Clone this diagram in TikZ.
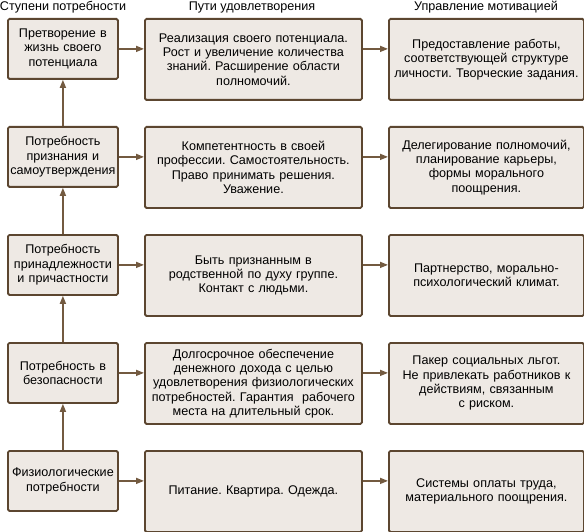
\documentclass[tikz,border=0pt]{standalone}
\usepackage{fontspec}
\setmainfont{Liberation Sans}
\usetikzlibrary{arrows.meta}
\definecolor{boxfill}{HTML}{EEE9E4}
\definecolor{boxdraw}{HTML}{5C4630}
\definecolor{arrcol}{HTML}{735A40}
\begin{document}
\begin{tikzpicture}[x=1pt,y=-1pt,
  base/.style={draw=boxdraw,fill=boxfill,line width=1.8pt,rounded corners=1.5pt,anchor=north west,
    align=center,inner sep=0pt,font=\fontsize{12.6}{14.3}\selectfont\frenchspacing},
  lbox/.style={base,minimum width=110pt,minimum height=60pt,text width=108pt},
  mbox/.style={base,minimum width=217pt,minimum height=81pt,text width=215pt},
  rbox/.style={base,minimum width=195pt,minimum height=81pt,text width=193pt},
  hdr/.style={font=\fontsize{12.6}{14.3}\selectfont,inner sep=0pt},
  arr/.style={draw=arrcol,line width=1.5pt,-{Triangle[length=8pt,width=6pt]}}]
\useasboundingbox (0,0) rectangle (584,532);
\node[hdr] (h1) at (63,7) {Ступени потребности};
\node[hdr] (h2) at (252,7) {Пути удовлетворения};
\node[hdr] (h3) at (486,7) {Управление мотивацией};

\node[lbox] (l1) at (7,18) {Претворение в\\жизнь своего\\потенциала};
\node[mbox] (m1) at (144,18) {Реализация своего потенциала.\\Рост и увеличение количества\\знаний. Расширение области\\полномочий.};
\node[rbox] (r1) at (388,18) {Предоставление работы,\\соответствующей структуре\\личности. Творческие задания.};

\node[lbox] (l2) at (7,126) {Потребность\\признания и\\самоутверждения};
\node[mbox] (m2) at (144,126) {Компетентность в своей\\профессии. Самостоятельность.\\Право принимать решения.\\Уважение.};
\node[rbox] (r2) at (388,126) {Делегирование полномочий,\\планирование карьеры,\\формы морального\\поощрения.};

\node[lbox] (l3) at (7,234) {Потребность\\принадлежности\\и причастности};
\node[mbox] (m3) at (144,234) {Быть признанным в\\родственной по духу группе.\\Контакт с людьми.};
\node[rbox] (r3) at (388,234) {Партнерство, морально-\\психологический климат.};

\node[lbox] (l4) at (7,342) {Потребность в\\безопасности};
\node[mbox] (m4) at (144,342) {Долгосрочное обеспечение\\денежного дохода с целью\\удовлетворения физиологических\\потребностей. Гарантия\ \ рабочего\\места на длительный срок.};
\node[rbox] (r4) at (388,342) {Пакер социальных льгот.\\Не привлекать работников к\\действиям, связанным\\с риском.};

\node[lbox] (l5) at (7,450) {Физиологические\\потребности};
\node[mbox] (m5) at (144,450) {Питание. Квартира. Одежда.};
\node[rbox] (r5) at (388,450) {Системы оплаты труда,\\материального поощрения.};

\foreach \i in {1,...,5}{
  \draw[arr] (l\i.east) -- (l\i.east -| m\i.west);
  \draw[arr] (l\i.east -| m\i.east) -- (l\i.east -| r\i.west);
}
\foreach \a/\b in {5/4,4/3,3/2,2/1}{
  \draw[arr] (l\a.north) -- (l\b.south);
}
\end{tikzpicture}
\end{document}
